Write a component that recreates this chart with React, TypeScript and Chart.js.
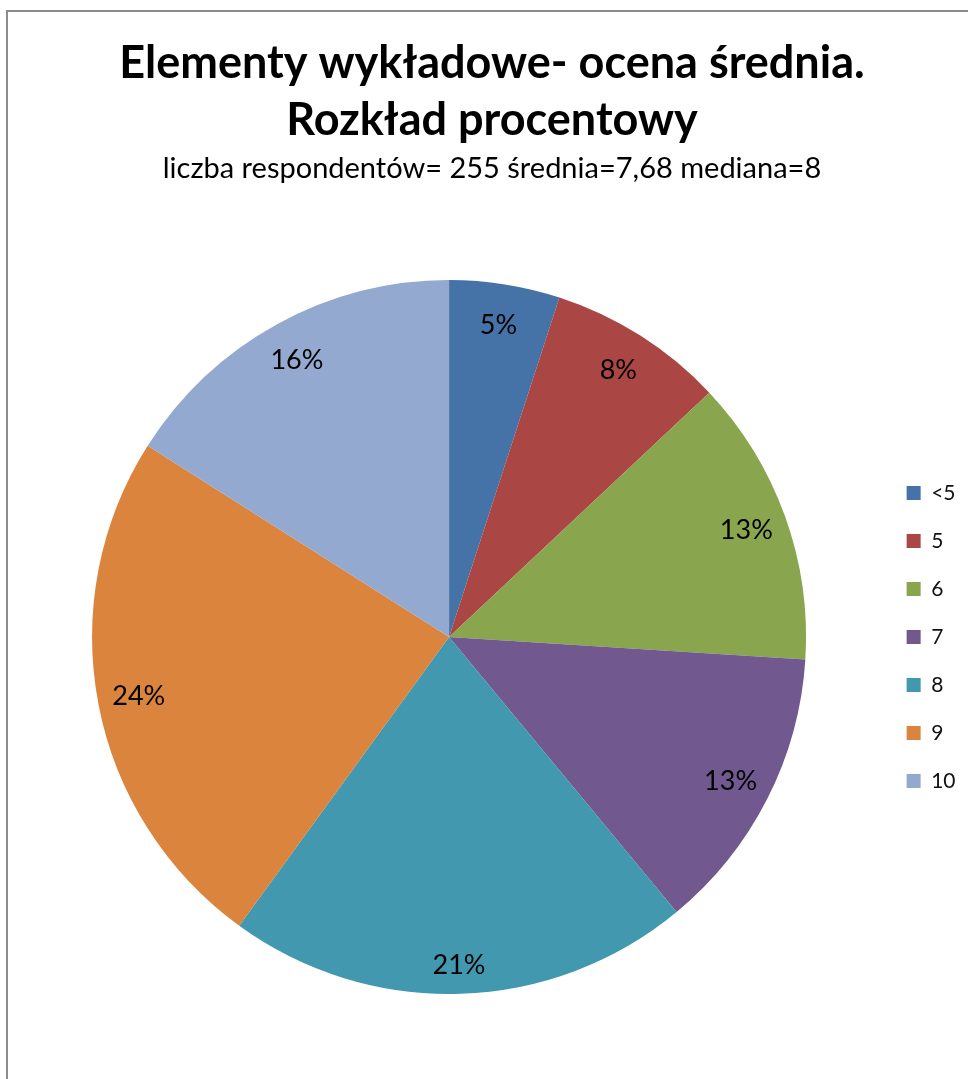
import React, { useEffect, useRef } from "react";
import { Chart, registerables } from "chart.js";

Chart.register(...registerables);

const categories = ["<5", "5", "6", "7", "8", "9", "10"];
const percentValues = [5, 8, 13, 13, 21, 24, 16];
const sliceColors = ["#4572A7", "#AA4643", "#89A54E", "#71588F", "#4198AF", "#DB843D", "#93A9CF"];
const titleLines = ["Elementy wykładowe- ocena średnia.", "Rozkład procentowy"];
const subtitleText = "liczba respondentów= 255 średnia=7,68 mediana=8";

const FONT = "Lato, 'Open Sans', 'DejaVu Sans', sans-serif";

const frame = {
  id: "frame",
  beforeDraw(chart: any) {
    const ctx = chart.ctx;
    ctx.save();
    ctx.fillStyle = "#fff";
    ctx.fillRect(0, 0, chart.width, chart.height);
    ctx.strokeStyle = "#8c8c8c";
    ctx.lineWidth = 2;
    ctx.beginPath();
    ctx.moveTo(7, chart.height);
    ctx.lineTo(7, 11);
    ctx.lineTo(chart.width, 11);
    ctx.stroke();
    ctx.restore();
  },
};

const percentLabels = {
  id: "percentLabels",
  afterDatasetsDraw(chart: any) {
    const ctx = chart.ctx;
    const meta = chart.getDatasetMeta(0);
    ctx.save();
    ctx.font = `27px ${FONT}`;
    ctx.fillStyle = "#000";
    ctx.textAlign = "center";
    ctx.textBaseline = "middle";
    meta.data.forEach((arc: any, i: number) => {
      const { x, y, startAngle, endAngle, outerRadius } = arc.getProps(
        ["x", "y", "startAngle", "endAngle", "outerRadius"],
        true
      );
      const mid = (startAngle + endAngle) / 2;
      const r = outerRadius * 0.885;
      const s = Math.sin(mid);
      const lx = x + Math.cos(mid) * r;
      // labels near the bottom of the pie sit slightly closer to the edge
      const ly = y + s * r + Math.pow(Math.max(0, s), 4) * 13;
      ctx.fillText(`${percentValues[i]}%`, lx, ly);
    });
    ctx.restore();
  },
};

export default function App() {
  const canvasRef = useRef<HTMLCanvasElement | null>(null);

  useEffect(() => {
    document.body.style.margin = "0";
    document.body.style.overflow = "hidden";
    const canvas = canvasRef.current;
    if (!canvas) return;
    const chart = new Chart(canvas, {
      type: "pie",
      data: {
        labels: categories,
        datasets: [
          {
            data: percentValues,
            backgroundColor: sliceColors,
            borderWidth: 0,
            hoverOffset: 0,
          },
        ],
      },
      plugins: [frame, percentLabels],
      options: {
        responsive: false,
        animation: false,
        layout: { padding: { left: 18.5, right: 2.5, top: 0, bottom: 85 } },
        plugins: {
          tooltip: { enabled: false },
          title: {
            display: true,
            text: titleLines,
            color: "#000",
            font: { family: FONT, size: 45, weight: "bold", lineHeight: 1.267 },
            padding: { top: 34.8, bottom: 2.9 },
          },
          subtitle: {
            display: true,
            text: subtitleText,
            color: "#000",
            font: { family: FONT, size: 29, weight: "normal", lineHeight: 1.2 },
            padding: { top: 0, bottom: 93.5 },
          },
          legend: {
            display: true,
            position: "right",
            align: "center",
            fullSize: false,
            labels: {
              boxWidth: 14,
              boxHeight: 14,
              padding: 27,
              color: "#111",
              font: { family: FONT, size: 21 },
            },
          },
        },
      },
    });
    return () => chart.destroy();
  }, []);

  return (
    <canvas ref={canvasRef} width={968} height={1079} style={{ display: "block" }} />
  );
}
